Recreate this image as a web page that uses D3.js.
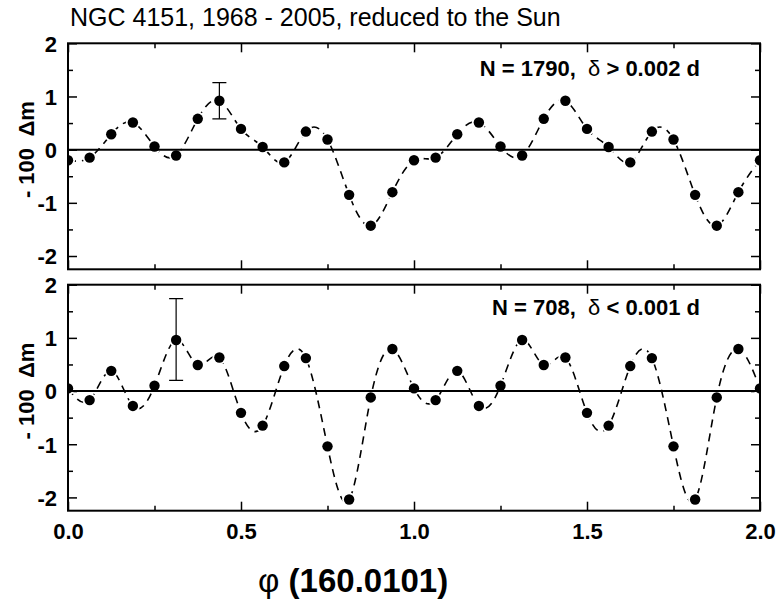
<!DOCTYPE html>
<html lang="en">
<head>
<meta charset="UTF-8">
<title>NGC 4151, 1968 - 2005</title>
<style>
    body { margin: 0; background: #fff; }
    svg text { font-family: Arial, "Liberation Sans", sans-serif; fill: #000; }
    .axis path { display: none; }
    .axis line { stroke: #000; stroke-width: 1.5; }
    .axis text { font-size: 22px; font-weight: bold; }
</style>
</head>
<body>
<svg id="chart" width="779" height="601"></svg>

<script src="https://d3js.org/d3.v7.min.js"></script>
<script>
// phase bins (16 per period, two periods shown)
const phases = [0, 0.0625, 0.125, 0.1875, 0.25, 0.3125, 0.375, 0.4375, 0.5, 0.5625, 0.625, 0.6875,
    0.75, 0.8125, 0.875, 0.9375, 1, 1.0625, 1.125, 1.1875, 1.25, 1.3125, 1.375, 1.4375, 1.5,
    1.5625, 1.625, 1.6875, 1.75, 1.8125, 1.875, 1.9375, 2];

// N = 1790, delta > 0.002 d
const upperValues = [-0.20, -0.15, 0.29, 0.51, 0.06, -0.11, 0.58, 0.92, 0.39, 0.05, -0.24, 0.34,
    0.19, -0.85, -1.43, -0.80, -0.20, -0.15, 0.29, 0.51, 0.06, -0.11, 0.58, 0.92, 0.39, 0.05,
    -0.24, 0.34, 0.19, -0.85, -1.43, -0.80, -0.20];

// N = 708, delta < 0.001 d
const lowerValues = [0.05, -0.17, 0.38, -0.28, 0.10, 0.96, 0.49, 0.63, -0.41, -0.65, 0.47, 0.62,
    -1.04, -2.04, -0.12, 0.79, 0.05, -0.17, 0.38, -0.28, 0.10, 0.96, 0.49, 0.63, -0.41, -0.65,
    0.47, 0.62, -1.04, -2.04, -0.12, 0.79, 0.05];

// one error bar per panel
const errPhase = [0.4375, 0.3125];
const errLow = [0.58, 0.20];
const errHigh = [1.26, 1.74];

const panelLabels = ["N = 1790,  ", "N = 708,  "];
const panelLabelTails = [" > 0.002 d", " < 0.001 d"];

const xTicks = [0, 0.5, 1, 1.5, 2];
const xMinorTicks = [0.25, 0.75, 1.25, 1.75];
const yTicks = [-2, -1, 0, 1, 2];
const yMinorTicks = [-1.5, -0.5, 0.5, 1.5];

const svg = d3.select("#chart");
const left = 68, right = 760;
const panelTops = [43.3, 284.7];
const panelHeight = 226;

const x = d3.scaleLinear().domain([0, 2]).range([left, right]);

svg.append("text")
    .attr("x", 70).attr("y", 26)
    .style("font-size", "25px")
    .text("NGC 4151, 1968 - 2005, reduced to the Sun");

const series = [upperValues, lowerValues];

series.forEach((values, i) => {
    const top = panelTops[i];
    const bottom = top + panelHeight;
    const y = d3.scaleLinear().domain([-2.25, 2]).range([bottom, top]);
    const g = svg.append("g");

    const clipId = "clip" + i;
    svg.append("clipPath").attr("id", clipId)
        .append("rect")
        .attr("x", left).attr("y", top)
        .attr("width", right - left).attr("height", panelHeight);

    const data = phases.map((p, k) => ({ p: p, v: values[k] }));

    // ticks on all four sides, pointing inward
    g.append("g").attr("class", "axis")
        .attr("transform", `translate(0,${bottom})`)
        .call(d3.axisBottom(x).tickValues(xTicks).tickSize(-9)
            .tickFormat(i === 1 ? d3.format(".1f") : ""))
        .call(a => a.selectAll("text").attr("y", 13));
    g.append("g").attr("class", "axis")
        .attr("transform", `translate(0,${bottom})`)
        .call(d3.axisBottom(x).tickValues(xMinorTicks).tickSize(-5).tickFormat(""));
    g.append("g").attr("class", "axis")
        .attr("transform", `translate(0,${top})`)
        .call(d3.axisTop(x).tickValues(xTicks).tickSize(-9).tickFormat(""));
    g.append("g").attr("class", "axis")
        .attr("transform", `translate(0,${top})`)
        .call(d3.axisTop(x).tickValues(xMinorTicks).tickSize(-5).tickFormat(""));
    g.append("g").attr("class", "axis")
        .attr("transform", `translate(${left},0)`)
        .call(d3.axisLeft(y).tickValues(yTicks).tickSize(-9).tickFormat(d => String(d)))
        .call(a => a.selectAll("text").attr("x", -11).attr("dy", "0.36em"));
    g.append("g").attr("class", "axis")
        .attr("transform", `translate(${left},0)`)
        .call(d3.axisLeft(y).tickValues(yMinorTicks).tickSize(-5).tickFormat(""));
    g.append("g").attr("class", "axis")
        .attr("transform", `translate(${right},0)`)
        .call(d3.axisRight(y).tickValues(yTicks).tickSize(-9).tickFormat(""));
    g.append("g").attr("class", "axis")
        .attr("transform", `translate(${right},0)`)
        .call(d3.axisRight(y).tickValues(yMinorTicks).tickSize(-5).tickFormat(""));

    const plot = g.append("g").attr("clip-path", `url(#${clipId})`);

    // dashed spline through the bins
    const line = d3.line()
        .x(d => x(d.p))
        .y(d => y(d.v))
        .curve(d3.curveNatural);

    plot.append("path")
        .datum(data)
        .attr("d", line)
        .attr("fill", "none")
        .attr("stroke", "#000")
        .attr("stroke-width", 1.6)
        .attr("stroke-dasharray", "8,6");

    // white halo so the dashes stop short of the symbols
    plot.selectAll("circle.halo")
        .data(data)
        .enter().append("circle")
        .attr("class", "halo")
        .attr("cx", d => x(d.p)).attr("cy", d => y(d.v))
        .attr("r", 7)
        .attr("fill", "#fff");

    // zero line
    plot.append("line")
        .attr("x1", left).attr("x2", right)
        .attr("y1", y(0)).attr("y2", y(0))
        .attr("stroke", "#000").attr("stroke-width", 2);

    // error bar
    const ex = x(errPhase[i]);
    const eg = plot.append("g").attr("stroke", "#000").attr("stroke-width", 1.2);
    eg.append("line").attr("x1", ex).attr("x2", ex)
        .attr("y1", y(errLow[i])).attr("y2", y(errHigh[i]));
    [errLow[i], errHigh[i]].forEach(v => {
        eg.append("line").attr("x1", ex - 7).attr("x2", ex + 7)
            .attr("y1", y(v)).attr("y2", y(v));
    });

    plot.selectAll("circle.dot")
        .data(data)
        .enter().append("circle")
        .attr("class", "dot")
        .attr("cx", d => x(d.p)).attr("cy", d => y(d.v))
        .attr("r", 5.2)
        .attr("fill", "#000");

    // frame
    g.append("rect")
        .attr("x", left).attr("y", top)
        .attr("width", right - left).attr("height", panelHeight)
        .attr("fill", "none").attr("stroke", "#000").attr("stroke-width", 2);

    // panel label
    const lbl = g.append("text")
        .attr("x", 700).attr("y", top + (i === 0 ? 32.5 : 30.5))
        .attr("text-anchor", "end")
        .style("font-size", "22px").style("font-weight", "bold")
        .style("white-space", "pre");
    lbl.append("tspan").text(panelLabels[i]);
    lbl.append("tspan").style("font-weight", "normal").text("\u03b4");
    lbl.append("tspan").text(panelLabelTails[i]);

    // y title
    g.append("text")
        .attr("transform", `translate(34,${y(0)}) rotate(-90)`)
        .attr("text-anchor", "middle")
        .style("font-size", "22px").style("font-weight", "bold")
        .style("white-space", "pre")
        .text("- 100  \u0394m");
});

// x title
const xt = svg.append("text")
    .attr("x", 258).attr("y", 592)
    .style("font-size", "33px");
xt.append("tspan").text("\u03c6 ");
xt.append("tspan").style("font-weight", "bold").text("(160.0101)");
</script>
</body>
</html>
